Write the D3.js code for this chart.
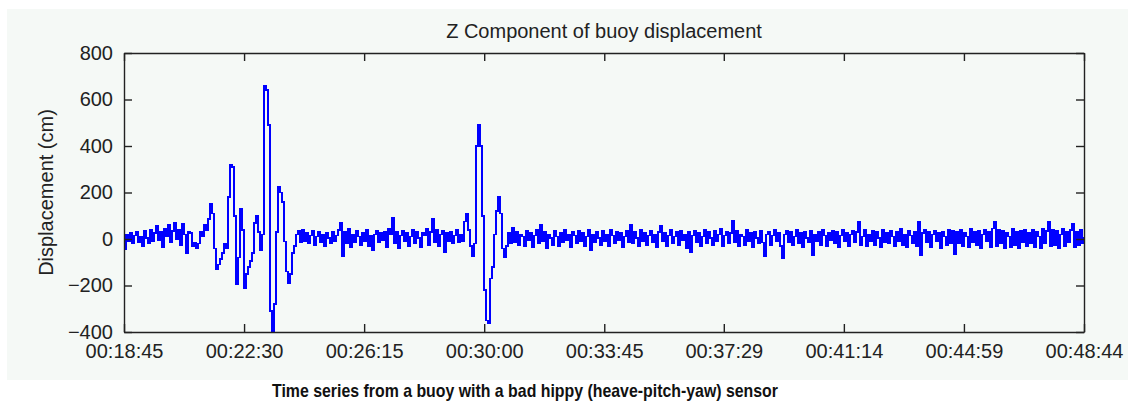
<!DOCTYPE html>
<meta charset="utf-8">
<style>
    body {
        margin:0;
        background:#fff;
        font-family:'Liberation Sans', Arial, Helvetica, sans-serif;
    }
    .axis text {
        font-size:20px;
        fill:#222;
    }
    .axis path, .axis line {
        stroke:#222;
        stroke-width:1.4;
    }
</style>
<body>
<script src="https://cdn.jsdelivr.net/npm/d3@7"></script>
<script>
var width = 1128, height = 403;
var margin = {top: 53, right: 44, bottom: 71, left: 124};

// tick labels (hh:mm:ss), first and last are the ends of the record
var tickLabels = ["00:18:45", "00:22:30", "00:26:15", "00:30:00", "00:33:45",
                  "00:37:29", "00:41:14", "00:44:59", "00:48:44"];
var yTicks = [-400, -200, 0, 200, 400, 600, 800];

// heave (cm) in five stretches, evenly spaced samples
var quietStart = [-45, 20, -10, 25, -20, 15, 30, -15, 10, -30, 35, 5, -20, 40, -10, 25, 55, -5, 30, -35,
                  45, 10, 60, -15, 35, 70, 0, 40, -25, 65, 20, -60, 30];
var firstBurst = [25, -30, -15, -40, -20, 30, 10, 60, 40, 85, 150, 110, -40, -130, -110, -85, -60, -20, -40, 180,
                  320, 310, 100, -195, -80, 130, 40, -210, -150, -120, -95, -60, 70, 100, 30, -50, 20, 660, 640, 490,
                  -310, -400, -280, 30, 225, 200, 160, -10, -140, -190, -150, -60, -30, 20, 35, -15];
var quietMiddle = [40, -10, 25, -20, 15, 35, -25, 10, 30, -15, 20, -30, 25, 5, -20, 30, -10, 15, 40, 70,
                   -75, 30, -20, 45, -35, 20, -15, 35, 10, -25, 25, -10, 40, -30, 15, -50, 20, 35, -15, 25,
                   -5, 30, -35, 45, 20, 90, -20, 30, -40, 15, 35, -10, 25, -30, 10, 40, -20, 30, 5, -35,
                   25, 15, 45, -25, 30, 85, -15, 40, -30, 20, 35, -55, 25, -10, 30, -20, 15, 40, -15];
var secondBurst = [20, -10, 75, 110, 40, -30, -75, -20, 400, 490, 400, 100, -220, -350, -360, -170, -120, 20, 120, 180,
                   110, -40, -80, -30, 25, -20];
var quietEnd = [50, -15, 30, -25, 20, 10, -30, 35, -5, 25, -35, 15, 40, -20, 60, -10, 30, -40, 20, 5,
                -25, 35, 10, -30, 25, -15, 40, -5, 20, -35, 30, 15, -20, 35, -10, 25, -30, 10, 40, -50,
                20, -15, 30, 5, -25, 35, -10, 20, -30, 40, 15, -20, 30, -5, 25, -35, 10, 35, -15, 60,
                -20, 30, 5, -30, 40, -10, 25, -25, 15, 35, -15, 20, -35, 30, 55, -10, 25, -30, 15, 40,
                -20, 10, 30, -25, 35, -5, 20, -40, 30, -55, 15, 35, -15, 25, -30, 10, 40, -20, 30, 5,
                -25, 35, -10, 20, 45, -30, 15, 30, -20, 25, 80, -15, 35, -30, 20, 10, -25, 40, -10, 25,
                -35, 30, 5, -20, 35, -15, -75, 20, 30, -25, 15, 40, -10, 25, -30, -83, 20, 35, -15, 30,
                -25, 10, 40, -20, 25, -35, 30, 5, -15, 35, -70, 20, -10, 30, -25, 40, 15, -30, 25, -5,
                35, -20, 30, -35, 15, 40, -10, 25, -30, 20, 35, -15, 30, 75, -25, 10, 40, -30, 20, -10,
                35, -25, 30, 5, -35, 40, -15, 25, -20, 35, 10, -30, 30, -10, 45, -25, 20, -35, 35, 15,
                -20, 30, -30, 73, -70, 25, 40, -15, 30, -35, 20, 35, -10, 25, -40, 30, 10, -25, 40, -20,
                35, -65, 30, -20, 40, -30, 25, 10, -35, 45, -15, 30, -25, 35, -40, 20, 40, -10, 30, -35,
                45, 75, -30, 40, -20, 35, -40, 25, 10, -35, 45, -25, 30, -40, 35, -15, 40, -30, 25, -20,
                40, -35, 30, 10, -40, 45, -20, 35, 72, -30, 40, -25, 35, -40, 20, 45, -30, 30, -15, 40,
                65, -35, 30, -25, 40, -20, 10];

function toSeconds(s) {
    var p = s.split(":").map(Number);
    return p[0] * 3600 + p[1] * 60 + p[2];
}

var xTicks = tickLabels.map(toSeconds);
var heave = [].concat(quietStart, firstBurst, quietMiddle, secondBurst, quietEnd);
var t0 = xTicks[0], t1 = xTicks[xTicks.length - 1];
var step = (t1 - t0) / (heave.length - 1);
var series = heave.map(function(v, i) { return [t0 + i * step, v]; });

var svg = d3.select("body").append("svg")
    .attr("width", width)
    .attr("height", height);

// figure background
svg.append("rect")
    .attr("x", 7).attr("y", 9)
    .attr("width", width - 7).attr("height", 371)
    .attr("fill", "#f5f9f6");

var w = width - margin.left - margin.right,
    h = height - margin.top - margin.bottom;

var x = d3.scaleLinear().domain([t0, t1]).range([0, w]);
var y = d3.scaleLinear().domain([-400, 800]).range([h, 0]);

var g = svg.append("g")
    .attr("transform", "translate(" + margin.left + "," + margin.top + ")");

var line = d3.line()
    .curve(d3.curveStepAfter)
    .x(function(d) { return x(d[0]); })
    .y(function(d) { return y(d[1]); });

g.append("path")
    .datum(series)
    .attr("fill", "none")
    .attr("stroke", "#0000ff")
    .attr("stroke-width", 1.6)
    .attr("shape-rendering", "crispEdges")
    .attr("d", line);

g.append("g")
    .attr("class", "axis")
    .attr("transform", "translate(0," + h + ")")
    .call(d3.axisBottom(x).tickValues(xTicks).tickSizeInner(-8).tickSizeOuter(0).tickPadding(12)
        .tickFormat(function(d, i) { return tickLabels[i]; }));

g.append("g")
    .attr("class", "axis")
    .call(d3.axisTop(x).tickValues(xTicks).tickSizeInner(-8).tickSizeOuter(0).tickFormat(""));

g.append("g")
    .attr("class", "axis")
    .call(d3.axisLeft(y).tickValues(yTicks).tickSizeInner(-8).tickSizeOuter(0).tickPadding(11));

g.append("g")
    .attr("class", "axis")
    .attr("transform", "translate(" + w + ",0)")
    .call(d3.axisRight(y).tickValues(yTicks).tickSizeInner(-8).tickSizeOuter(0).tickFormat(""));

g.selectAll(".axis text").attr("font-family", null);

// title
g.append("text")
    .attr("x", w / 2)
    .attr("y", -15)
    .attr("text-anchor", "middle")
    .attr("font-size", 20)
    .attr("fill", "#222")
    .text("Z Component of buoy displacement");

// y label
g.append("text")
    .attr("transform", "translate(" + (-71) + "," + (h / 2) + ") rotate(-90)")
    .attr("text-anchor", "middle")
    .attr("font-size", 20)
    .attr("fill", "#222")
    .text("Displacement (cm)");

// caption under the figure
svg.append("text")
    .attr("x", 525)
    .attr("y", 397)
    .attr("text-anchor", "middle")
    .attr("font-size", 19)
    .attr("font-weight", "bold")
    .attr("textLength", 506)
    .attr("lengthAdjust", "spacingAndGlyphs")
    .attr("fill", "#111")
    .text("Time series from a buoy with a bad hippy (heave-pitch-yaw) sensor");
</script>
</body>
